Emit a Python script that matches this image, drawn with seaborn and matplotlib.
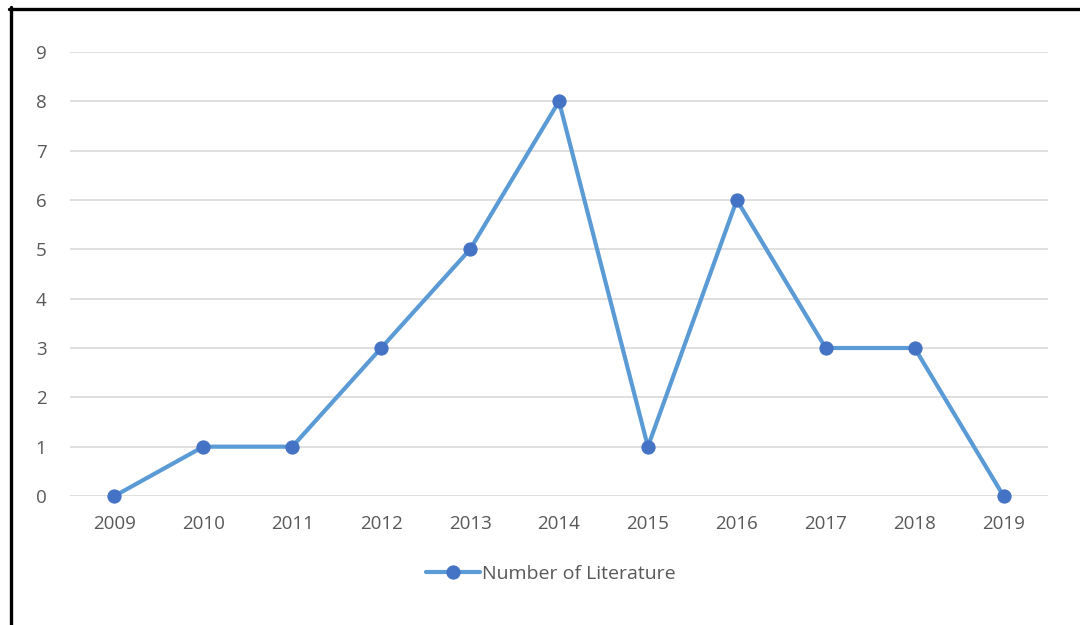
import matplotlib
matplotlib.use("Agg")
import matplotlib.pyplot as plt
from matplotlib.lines import Line2D
import seaborn as sns
import pandas as pd

years = ["2009", "2010", "2011", "2012", "2013", "2014",
         "2015", "2016", "2017", "2018", "2019"]
counts = [0, 1, 1, 3, 5, 8, 1, 6, 3, 3, 0]
series_name = "Number of Literature"

df = pd.DataFrame({"year": years, "count": counts})

sns.set_theme(style="white")
plt.rcParams["font.family"] = ["Open Sans", "DejaVu Sans"]

fig = plt.figure(figsize=(10.8, 6.25), dpi=100)
ax = fig.add_axes([70 / 1080, 1 - 496 / 625, 978 / 1080, 444 / 625])

sns.lineplot(data=df, x="year", y="count", ax=ax, color="#5B9BD5",
             linewidth=3, marker="o", markersize=9.5,
             markerfacecolor="#4472C4", markeredgecolor="#4472C4",
             label=series_name, zorder=3, clip_on=False)

ax.set_xlim(-0.5, len(years) - 0.5)
ax.set_ylim(0, 9)
ax.set_yticks(range(0, 10))
ax.yaxis.grid(True, color="#D9D9D9", linewidth=1.2)
ax.set_axisbelow(True)
for s in ax.spines.values():
    s.set_visible(False)
ax.tick_params(axis="both", length=0, labelsize=13.5, labelcolor="#595959")
ax.tick_params(axis="x", pad=14)
ax.tick_params(axis="y", pad=17)
ax.set_xlabel("")
ax.set_ylabel("")

leg = ax.legend(loc="center", bbox_to_anchor=(551 / 1080, 1 - 574 / 625),
                bbox_transform=fig.transFigure, frameon=False,
                fontsize=14, handlelength=2.8, handletextpad=0.1)
for t in leg.get_texts():
    t.set_color("#595959")

# chart frame (left and top edges visible in the reference)
fig.add_artist(Line2D([10.5 / 1080, 10.5 / 1080], [0, 1 - 7 / 625],
                      transform=fig.transFigure, color="black", linewidth=2.4))
fig.add_artist(Line2D([9 / 1080, 1], [1 - 8.5 / 625, 1 - 8.5 / 625],
                      transform=fig.transFigure, color="black", linewidth=2.4))

fig.savefig("out.png", dpi=100)
